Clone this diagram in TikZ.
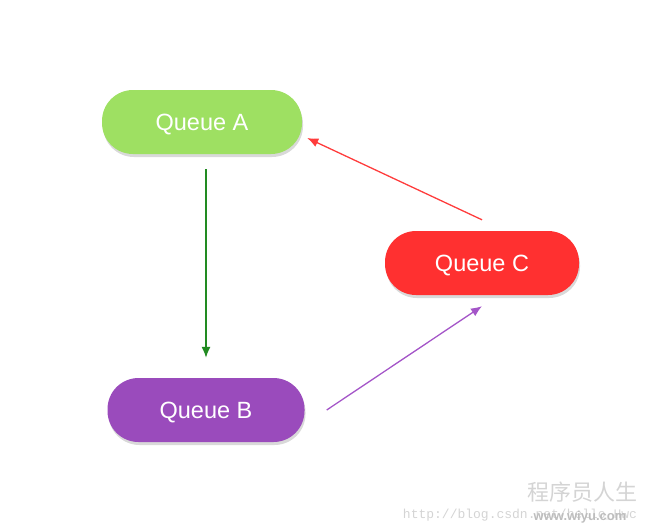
\documentclass[tikz,border=0pt]{standalone}
\usepackage{fontspec}
\setmainfont{Liberation Sans}
\newfontfamily\cjkfont{Noto Sans CJK SC}
\newfontfamily\markfont{Liberation Mono}
\usetikzlibrary{positioning,arrows.meta,shadows}
\definecolor{qgreen}{HTML}{9EE062}
\definecolor{qpurple}{HTML}{9A4BBC}
\definecolor{qred}{HTML}{FF3030}
\definecolor{lgreen}{HTML}{228B22}
\definecolor{lred}{HTML}{FF3C3C}
\definecolor{lpurple}{HTML}{A455C8}
\definecolor{wmark}{HTML}{D4D4D4}
\definecolor{wmarkdark}{HTML}{BDBDBD}
\tikzset{queue/.style={rounded corners=31pt, minimum width=197pt, minimum height=64pt,
    text=white, font=\fontsize{23.5}{28}\selectfont, text depth=0pt,
    drop shadow={shadow xshift=1pt, shadow yshift=-3pt, opacity=0.3}},
  link/.style={-{Latex[length=11pt,width=9pt]}, line width=1.3pt}}

\begin{document}
\begin{tikzpicture}[x=1pt, y=-1pt]
\useasboundingbox (0,0) rectangle (650,527);
\node[queue, fill=qgreen, minimum width=200pt] (qA) at (202,122) {Queue A};
\node[queue, fill=qpurple] (qB) at (206,410) {Queue B};
\node[queue, fill=qred, minimum width=194pt] (qC) at (482,263) {Queue C};
\draw[link, lgreen, shorten <=15pt, shorten >=20pt] (qB.north |- qA.south) -- (qB.north);
\draw[link, lred] ([yshift=11pt]qC.north) -- ([xshift=5pt,yshift=-16pt]qA.east);
\draw[link, lpurple] ([xshift=22pt]qB.east) -- ([yshift=-11pt]qC.south);
% watermark
\node[wmark, font=\cjkfont\fontsize{22}{24}\selectfont, inner sep=0pt] (wmA) at (582,492) {程序员人生};
\node[wmark, font=\markfont\fontsize{13}{14}\selectfont, inner sep=0pt] (wmB) at (520,515) {http://blog.csdn.net/hello\_Hwc};
\node[wmarkdark, font=\bfseries\fontsize{13}{14}\selectfont, inner sep=0pt] (wmC) at (580,517) {www.wiyu.com};
\end{tikzpicture}
\end{document}
